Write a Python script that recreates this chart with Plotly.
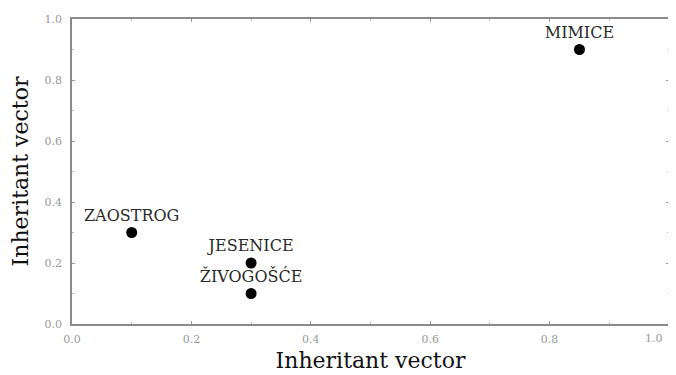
import plotly.graph_objects as go

names = ["MIMICE", "ZAOSTROG", "JESENICE", "ŽIVOGOŠĆE"]
x_vals = [0.85, 0.10, 0.30, 0.30]
y_vals = [0.90, 0.30, 0.20, 0.10]
tick_vals = [0.0, 0.2, 0.4, 0.6, 0.8, 1.0]
tick_text = ["0.0", "0.2", "0.4", "0.6", "0.8", "1.0"]
x_title = "Inheritant vector"
y_title = "Inheritant vector"

tick_font = dict(family="DejaVu Serif", size=11, color="#999")

fig = go.Figure()
fig.add_trace(go.Scatter(
    x=x_vals, y=y_vals, mode="markers+text", text=names,
    textposition="top center",
    textfont=dict(family="DejaVu Serif", size=16, color="#2a2a2a"),
    marker=dict(size=11, color="black"),
    cliponaxis=False, showlegend=False,
))

axis_common = dict(
    range=[0, 1], tickvals=tick_vals,
    ticks="inside", ticklen=3, tickcolor="#999", tickwidth=1,
    minor=dict(dtick=0.1, tick0=0, ticks="inside", ticklen=2, tickcolor="#bbb"),
    showline=True, linecolor="#8a8a8a", linewidth=1.5, mirror="ticks",
    showgrid=False, zeroline=False, automargin=False,
    tickfont=tick_font,
    title_font=dict(family="DejaVu Serif", size=22, color="#111"),
)

# last x tick label drawn as an annotation so it stays inside the window
fig.update_xaxes(**axis_common, ticktext=tick_text[:-1] + [""],
                 title_text=x_title, title_standoff=8, ticklabelstandoff=4)
fig.update_yaxes(**axis_common, ticktext=tick_text,
                 title_text=y_title, title_standoff=10, ticklabelstandoff=6)

fig.add_annotation(
    x=tick_vals[-1], xref="x", y=0, yref="paper", text=tick_text[-1],
    showarrow=False, font=tick_font, xanchor="right", yanchor="top",
    xshift=-4, yshift=-6,
)

# the page body has an 8px default margin, so the figure is offset by 8px
fig.update_layout(
    width=676, height=375,
    margin=dict(l=64, r=15, t=11, b=59),
    plot_bgcolor="white", paper_bgcolor="white",
)

fig.write_html("out.html")
